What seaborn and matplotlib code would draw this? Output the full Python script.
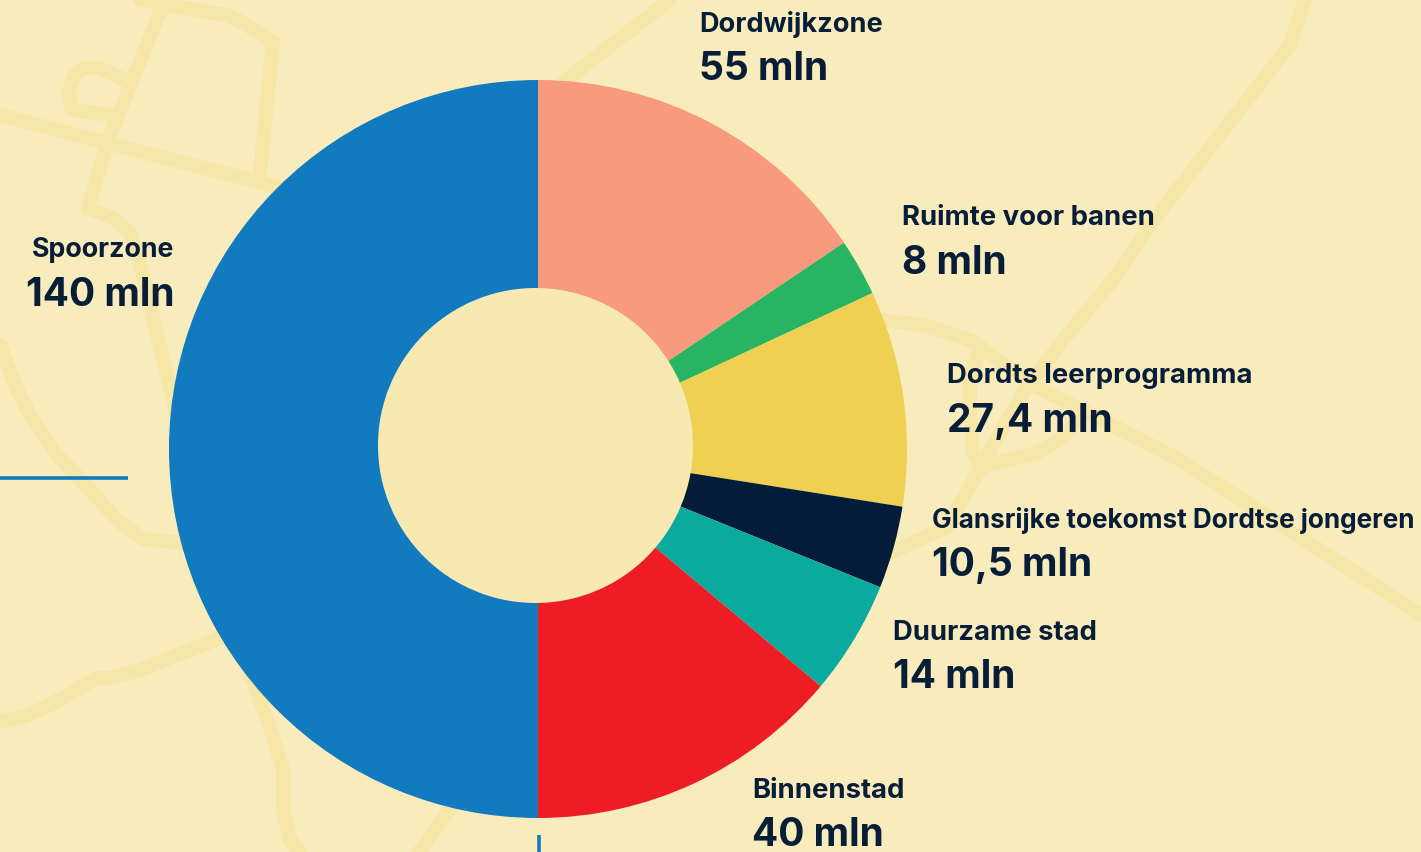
import matplotlib.pyplot as plt
import seaborn as sns

# --- data ---
projects = ['Dordwijkzone', 'Ruimte voor banen', 'Dordts leerprogramma',
            'Glansrijke toekomst Dordtse jongeren', 'Duurzame stad', 'Binnenstad', 'Spoorzone']
amounts = ['55 mln', '8 mln', '27,4 mln', '10,5 mln', '14 mln', '40 mln', '140 mln']
# slice sizes as drawn in the picture (degrees), they are not proportional to the amounts
slice_sizes = [56, 9, 34, 13, 18, 50, 180]
colors = ['#F89A7E', '#29B463', '#EFD050', '#041C3A', '#0BAA9E', '#EE1C25', '#127ABF']

BG = '#F9ECBC'
ROAD = '#F6E6A8'
INK = '#071D38'
W, H = 1421, 852

sns.set_theme(style='white', rc={'figure.facecolor': BG, 'axes.facecolor': BG})
plt.rcParams['font.family'] = ['Inter', 'DejaVu Sans']

fig = plt.figure(figsize=(W / 100, H / 100), dpi=100)
ax = fig.add_axes([0, 0, 1, 1])

# --- map lines in the background (pixels, y down) ---
roads = [
    [(0, 115), (107, 143), (290, 190)],
    [(165, 0), (107, 143), (88, 208), (113, 218), (130, 233), (140, 263), (147, 293), (185, 450)],
    [(140, 0), (213, 13), (227, 15), (243, 23), (273, 42), (260, 173)],
    [(125, 80), (100, 68), (83, 68), (75, 75), (68, 93), (72, 110), (110, 115)],
    [(0, 345), (15, 385), (30, 415), (53, 450), (93, 493), (117, 520), (143, 539), (190, 544)],
    [(0, 721), (23, 717), (50, 705), (97, 678), (110, 678), (140, 670), (230, 634)],
    [(245, 660), (270, 727), (283, 770), (283, 810), (290, 840), (302, 855)],
    [(540, 100), (670, 0)],
    [(417, 855), (460, 795)],
    [(1305, 0), (1290, 45), (1150, 225), (1113, 280), (1063, 340), (1023, 393), (983, 463),
     (947, 527), (890, 553)],
    [(880, 320), (923, 325), (970, 340), (1037, 387), (1180, 460), (1421, 615)],
    [(980, 347), (970, 380), (970, 413), (973, 453), (983, 470)],
    [(983, 466), (1037, 453), (1063, 437), (1085, 412)],
]
for road in roads:
    xs, ys = zip(*road)
    ax.plot(xs, [H - y for y in ys], color=ROAD, lw=10, solid_joinstyle='round', zorder=1)

# --- blue ticks ---
ax.plot([0, 128], [H - 477.5, H - 477.5], color='#127ABF', lw=2.6, zorder=2, solid_capstyle='butt')
ax.plot([539, 539], [H - 835, 0], color='#127ABF', lw=2.6, zorder=2, solid_capstyle='butt')

# --- donut, the hole sits slightly off centre in the original ---
wedges, _ = ax.pie(slice_sizes, colors=sns.color_palette(colors), startangle=90, counterclock=False,
                   center=(538, H - 449), radius=369, wedgeprops={'linewidth': 0, 'zorder': 3})
ax.add_patch(plt.Circle((535.5, H - 445.5), 157.5, color='#F8E8B2', lw=0, zorder=4))
ax.set_xlim(0, W)
ax.set_ylim(0, H)
ax.set_aspect('equal')
ax.axis('off')

# --- labels ---
label_x = [699, 902, 947, 932, 893, 752, 174]
label_y = [24, 218, 376, 521, 633, 791, 250]
label_ha = ['left'] * 6 + ['right']
name_size = [19.5, 19.8, 19.8, 18.8, 19.8, 19.8, 19.3]
for name, amount, x, y, ha, size in zip(projects, amounts, label_x, label_y, label_ha, name_size):
    ax.text(x, H - y, name, fontsize=size, fontweight='bold', color=INK, ha=ha, va='center', zorder=5)
    ax.text(x, H - (y + 45), amount, fontsize=28, fontweight='bold', color=INK, ha=ha, va='center', zorder=5)

fig.savefig('out.png', dpi=100, facecolor=BG)
